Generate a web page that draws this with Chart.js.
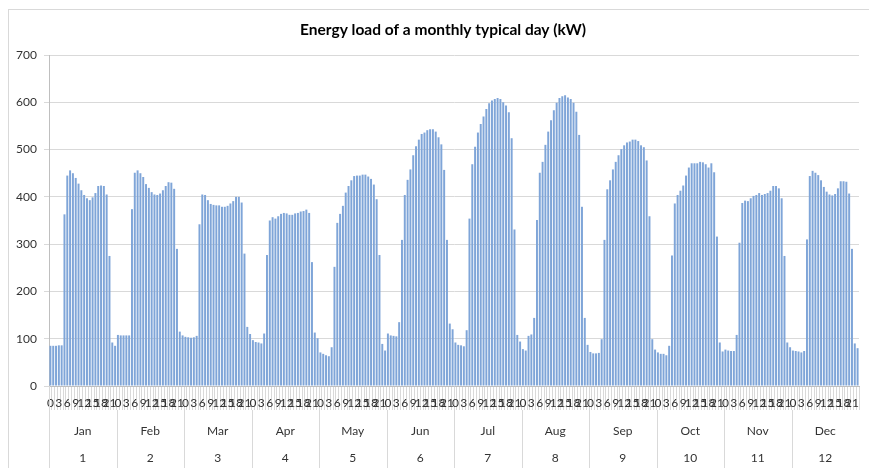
<!DOCTYPE html>
<html>
<head>
<meta charset="utf-8">
<script src="https://cdn.jsdelivr.net/npm/chart.js@4.4.0/dist/chart.umd.min.js"></script>
<style>
  html, body { margin: 0; padding: 0; background: #fff; }
</style>
</head>
<body>
<canvas id="chart" width="869" height="468"></canvas>
<script>
const months = ["Jan", "Feb", "Mar", "Apr", "May", "Jun", "Jul", "Aug", "Sep", "Oct", "Nov", "Dec"];
const monthNumbers = [1, 2, 3, 4, 5, 6, 7, 8, 9, 10, 11, 12];
const hours = [0, 1, 2, 3, 4, 5, 6, 7, 8, 9, 10, 11, 12, 13, 14, 15, 16, 17, 18, 19, 20, 21, 22, 23];
const hourTicks = [0, 3, 6, 9, 12, 15, 18, 21];
const yTicks = [0, 100, 200, 300, 400, 500, 600, 700];

// hourly load (kW) of the typical day of each month
const jan = [85, 85, 85, 86, 86, 363, 445, 456, 450, 440, 428, 414, 404, 397, 393, 399, 408, 423, 424, 423, 405, 275, 92, 85];
const feb = [108, 107, 107, 107, 107, 374, 451, 456, 450, 442, 427, 419, 410, 405, 404, 407, 414, 423, 431, 430, 417, 290, 115, 107];
const mar = [104, 103, 102, 103, 106, 342, 405, 404, 393, 385, 383, 382, 382, 379, 379, 381, 386, 391, 400, 400, 388, 280, 125, 110];
const apr = [97, 93, 92, 90, 111, 277, 350, 357, 354, 359, 364, 366, 365, 362, 362, 365, 366, 369, 370, 373, 366, 262, 113, 101];
const may = [71, 68, 65, 63, 82, 252, 345, 364, 381, 409, 423, 435, 444, 445, 445, 447, 447, 443, 438, 426, 395, 277, 89, 75];
const jun = [111, 107, 106, 105, 135, 309, 404, 436, 458, 488, 507, 521, 533, 536, 541, 543, 543, 538, 526, 511, 457, 309, 132, 120];
const jul = [92, 87, 86, 84, 118, 354, 469, 506, 536, 554, 570, 586, 598, 604, 607, 609, 607, 600, 593, 579, 524, 331, 108, 94];
const aug = [78, 75, 106, 109, 144, 351, 451, 474, 510, 538, 562, 583, 599, 609, 613, 615, 610, 607, 599, 580, 531, 379, 144, 87];
const sep = [72, 69, 69, 70, 99, 309, 416, 435, 458, 474, 488, 501, 509, 515, 517, 521, 521, 518, 509, 505, 477, 359, 99, 77];
const oct = [71, 68, 68, 65, 85, 276, 386, 404, 413, 424, 445, 462, 471, 471, 471, 474, 473, 469, 462, 471, 452, 316, 92, 73];
const nov = [77, 75, 74, 74, 108, 303, 387, 392, 391, 397, 402, 404, 408, 404, 406, 408, 413, 423, 423, 418, 397, 275, 92, 82];
const dec = [75, 74, 73, 71, 74, 310, 444, 455, 451, 446, 435, 421, 411, 405, 403, 406, 418, 433, 433, 432, 407, 290, 90, 80];

const monthLoads = [jan, feb, mar, apr, may, jun, jul, aug, sep, oct, nov, dec];

// flatten to one category per hour
const labels = [];
const values = [];
monthLoads.forEach((load, m) => {
  load.forEach((v, h) => {
    labels.push(months[m] + " " + hours[h]);
    values.push(v);
  });
});

const textColor = "#333";
const lineColor = "#d9d9d9";

// outer frame, title and the month / month-number rows under the hour labels
const frameAndGroups = {
  id: "frameAndGroups",
  beforeDraw(chart) {
    const ctx = chart.ctx;
    ctx.save();
    ctx.strokeStyle = lineColor;
    ctx.lineWidth = 1;
    ctx.strokeRect(8.5, 9.5, 1000, 1000);
    ctx.restore();
  },
  afterDraw(chart) {
    const { ctx, chartArea } = chart;
    const x = chart.scales.x;
    const half = (x.getPixelForValue(1) - x.getPixelForValue(0)) / 2;

    ctx.save();
    ctx.fillStyle = "#000";
    ctx.font = "bold 15.5px Lato";
    ctx.textAlign = "center";
    ctx.textBaseline = "middle";
    ctx.fillText("Energy load of a monthly typical day (kW)", 443, 30);

    ctx.strokeStyle = lineColor;
    ctx.lineWidth = 1;
    ctx.fillStyle = textColor;
    ctx.font = "12px Lato";
    months.forEach((m, i) => {
      const left = x.getPixelForValue(i * 24) - half;
      const right = x.getPixelForValue(i * 24 + 23) + half;
      const xl = Math.round(left) + 0.5;
      ctx.beginPath();
      ctx.moveTo(xl, i === 0 ? chartArea.bottom : chartArea.bottom + 24);
      ctx.lineTo(xl, chart.height);
      ctx.stroke();
      const cx = (left + right) / 2;
      ctx.fillText(m, cx, 431);
      ctx.fillText(String(monthNumbers[i]), cx, 458);
    });
    ctx.restore();
  }
};

new Chart(document.getElementById("chart"), {
  type: "bar",
  data: {
    labels: labels,
    datasets: [
      {
        label: "Energy load",
        data: values,
        backgroundColor: "#7fa5d8",
        borderWidth: 0,
        barPercentage: 0.7,
        categoryPercentage: 1.0
      }
    ]
  },
  options: {
    responsive: false,
    animation: false,
    devicePixelRatio: 1,
    layout: { padding: { top: 55, right: 10, left: 0, bottom: 0 } },
    plugins: {
      legend: { display: false },
      title: { display: false },
      tooltip: { enabled: false }
    },
    scales: {
      x: {
        afterFit(scale) { scale.height = 82; },
        border: { color: "#bfbfbf" },
        grid: {
          drawOnChartArea: false,
          tickLength: 24,
          color: lineColor,
          offset: true
        },
        ticks: {
          autoSkip: false,
          maxRotation: 0,
          minRotation: 0,
          padding: -14,
          color: textColor,
          font: { family: "Lato", size: 12 },
          callback(value, index) {
            const h = hours[index % 24];
            return hourTicks.includes(h) ? String(h) : "";
          }
        }
      },
      y: {
        min: yTicks[0],
        max: yTicks[yTicks.length - 1],
        afterFit(scale) { scale.width = 49; },
        afterBuildTicks(scale) { scale.ticks = yTicks.map(v => ({ value: v })); },
        border: { color: "#bfbfbf" },
        grid: { color: lineColor, tickLength: 5 },
        ticks: {
          padding: 7,
          color: textColor,
          font: { family: "Lato", size: 12 }
        }
      }
    }
  },
  plugins: [frameAndGroups]
});
</script>
</body>
</html>
